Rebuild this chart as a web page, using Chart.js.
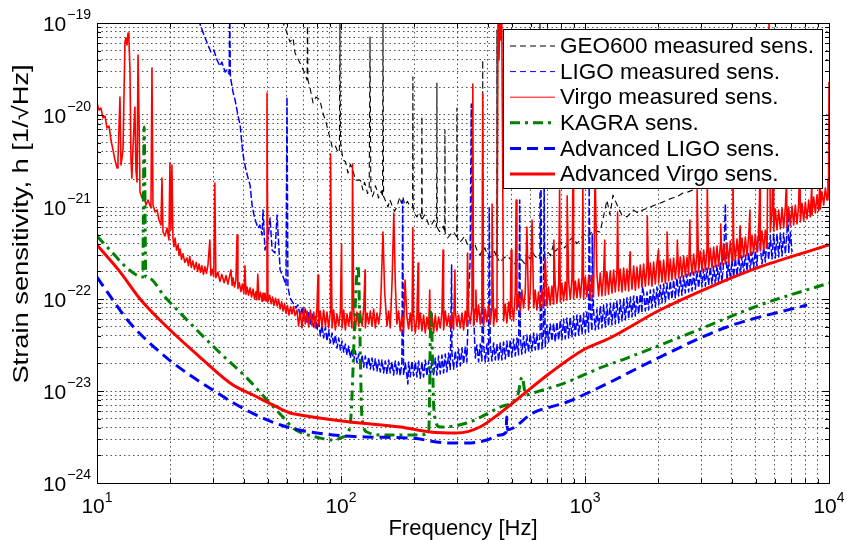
<!DOCTYPE html>
<html>
<head>
<meta charset="utf-8">
<title>Strain sensitivity</title>
<script src="https://cdn.jsdelivr.net/npm/chart.js@4.4.0/dist/chart.umd.min.js"></script>
<style>
  html, body { margin: 0; padding: 0; background: #fff; }
  #chart { display: block; }
</style>
</head>
<body>
<canvas id="chart" width="847" height="540"></canvas>
<script>
// values: [frequency Hz, strain 1/sqrt(Hz)]
var geoMeasured = [
  [57.3, 1.08e-19], [60.07, 7.78e-20], [61.8, 6.21e-20], [63.6, 6.86e-20], [64.8, 4.72e-20], [67.9, 3.67e-20],
  [70.6, 2.93e-20], [72.6, 2.4e-20], [72.9, 1.2e-19], [73.2, 2.4e-20], [74.7, 1.96e-20], [76.8, 1.35e-20],
  [78.9, 1.57e-20], [81.9, 1.46e-20], [84.3, 1.05e-20], [86.8, 8.39e-21], [88.4, 6.87e-21], [92.0, 4.49e-21],
  [94.5, 4.72e-21], [96.3, 4.16e-21], [98.5, 3.9e-21], [99.0, 1.2e-19], [99.5, 5.0e-21], [102.0, 3.24e-21],
  [104.4, 3.1e-21], [106.8, 2.34e-21], [109.3, 2.9e-21], [111.9, 2.52e-21], [114.6, 1.95e-21], [117.4, 1.96e-21],
  [120.2, 1.95e-21], [123.0, 1.53e-21], [124.8, 1.85e-21], [126.6, 1.67e-21], [128.5, 1.4e-21], [130.5, 1.63e-21],
  [131.5, 7.04e-20], [132.5, 1.6e-21], [134.4, 1.3e-21], [136.3, 1.42e-21], [138.3, 1.7e-21], [140.4, 1.53e-21],
  [142.4, 1.25e-21], [144.5, 1.35e-21], [146.2, 1.5e-21], [148.0, 1.28e-21], [148.6, 1.2e-19], [149.5, 1.3e-21],
  [152.6, 1.15e-21], [155.8, 1.0e-21], [158.6, 1.2e-21], [161.6, 1.05e-21], [165.5, 9.0e-22], [169.5, 1.0e-21],
  [172, 1.15e-21], [174.4, 1.28e-21], [176.8, 1.1e-21], [179.3, 1.28e-21], [182.8, 1.05e-21], [187.4, 1.15e-21],
  [192.2, 1.0e-21], [196.5, 9.8e-22], [197.1, 2.6e-20], [197.7, 9.5e-22], [201, 8.4e-22], [204.7, 7.79e-22],
  [209.3, 8.8e-22], [214.0, 7.5e-22], [214.6, 9.7e-21], [215.2, 7.4e-22], [220, 8.2e-22], [225, 7.22e-22],
  [230.3, 6.2e-22], [235.8, 6.53e-22], [241, 7.2e-22], [246.5, 6.1e-22], [247.2, 2.23e-20], [248, 6.0e-22],
  [253.5, 5.4e-22], [259, 5.63e-22], [262.5, 6.2e-22], [266.2, 5.25e-22], [266.7, 6.87e-21], [267.3, 5.2e-22],
  [273.4, 4.6e-22], [279.6, 4.96e-22], [288.7, 5.4e-22], [298.0, 4.75e-22], [298.6, 1.19e-20], [299.3, 4.7e-22],
  [306, 4.1e-22], [313, 4.38e-22], [320.5, 4.8e-22], [328, 4.06e-22], [337, 3.6e-22], [346.5, 3.7e-22],
  [347, 1.96e-21], [347.5, 3.65e-22], [354, 3.9e-22], [360.6, 3.41e-22], [370.5, 3.0e-22], [380.5, 3.35e-22],
  [381, 3.96e-20], [381.5, 3.33e-22], [388.5, 3.6e-22], [396, 3.16e-22], [406, 2.8e-22], [416, 2.98e-22],
  [425.5, 3.3e-22], [435, 2.85e-22], [435.5, 8.39e-20], [436, 2.84e-22], [449, 2.5e-22], [462, 2.76e-22],
  [480, 2.95e-22], [498, 2.65e-22], [510, 2.35e-22], [521, 2.52e-22], [540, 2.8e-22], [560, 2.52e-22],
  [571, 2.3e-22], [583, 2.98e-22], [597, 2.7e-22], [612, 3.16e-22], [626, 2.9e-22], [641, 2.76e-22],
  [653, 2.7e-22], [654, 1.2e-19], [655, 2.7e-22], [673, 2.65e-22], [689, 3.1e-22], [705, 3.24e-22],
  [722, 2.95e-22], [741, 3.86e-22], [754, 3.3e-22], [767, 3.41e-22], [786, 4.2e-22], [806, 4.06e-22],
  [824, 3.6e-22], [843, 3.86e-22], [868, 4.4e-22], [893, 4.72e-22], [925, 4.0e-22], [958, 4.38e-22],
  [988, 5.1e-22], [1018, 4.72e-22], [1047, 5.0e-22], [1077, 5.63e-22], [1151, 5.35e-22], [1183, 7.22e-22],
  [1230, 1.19e-21], [1266, 8.19e-22], [1302, 1.35e-21], [1365, 9.97e-22], [1417, 8.19e-22], [1486, 7.79e-22],
  [1576, 9.28e-22], [1649, 8.61e-22], [1726, 9.28e-22], [1850, 1.0e-21], [1935, 1.05e-21], [2029, 1.1e-21],
  [2167, 1.19e-21], [2280, 1.25e-21], [2382, 1.29e-21], [2520, 1.42e-21], [2645, 1.46e-21], [2770, 1.53e-21],
  [2950, 1.61e-21], [3190, 1.67e-21]
];

var ligoMeasured = [
  [26.0, 1.1e-19], [27.45, 7.4e-20], [28.5, 5.76e-20], [29.3, 4.84e-20], [30.1, 5.09e-20], [31.04, 3.96e-20],
  [31.9, 3.41e-20], [32.5, 3.76e-20], [33.5, 2.93e-20], [34.1, 3.08e-20], [34.8, 2.79e-20], [35.0, 1.2e-19],
  [35.2, 2.7e-20], [35.4, 2.4e-20], [36.1, 1.77e-20], [36.8, 1.46e-20], [37.8, 1.0e-20], [38.6, 7.79e-21],
  [39.4, 4.37e-21], [40.0, 3.24e-21], [40.8, 2.52e-21], [41.6, 2.06e-21], [42.4, 1.73e-21], [43.2, 1.05e-21],
  [44.0, 8.19e-22], [44.8, 6.87e-22], [45.7, 5.91e-22], [46.5, 6.37e-22], [47.5, 4.96e-22], [47.9, 9.28e-22],
  [48.8, 3.41e-22], [50.2, 4.49e-22], [51.2, 7.59e-22], [52.2, 3.41e-22], [53.6, 3.16e-22], [54.7, 8.19e-22],
  [56.3, 2.07e-22], [57.9, 1.74e-22], [59.5, 1.42e-22], [60.07, 1.57e-20], [60.6, 1.35e-22], [61.8, 1.03e-22],
  [63.6, 9.05e-23], [65.4, 7.98e-23], [66.6, 8.61e-23],
  [68.1, 6.37e-23], [69.2, 8.19e-23], [70.3, 6.06e-23], [71.4, 7.78e-23], [72.6, 5.62e-23], [73.7, 7.22e-23],
  [74.9, 5.35e-23], [76.1, 6.87e-23], [77.3, 4.96e-23], [78.5, 6.37e-23], [79.7, 4.6e-23], [81, 5.91e-23],
  [82.3, 3.96e-23], [83.6, 5.22e-23], [84.9, 3.77e-23], [86.3, 4.96e-23], [87.6, 3.49e-23], [89, 4.6e-23],
  [90.4, 3.33e-23], [91.9, 4.27e-23], [93.3, 3.16e-23], [94.8, 4.06e-23], [96.3, 2.93e-23], [97.9, 3.77e-23],
  [99.4, 2.79e-23], [101, 3.49e-23], [102.6, 2.65e-23], [104.2, 3.24e-23], [105.8, 2.46e-23], [107.5, 3.08e-23],
  [109.2, 2.28e-23], [110.9, 2.86e-23], [112.7, 2.12e-23], [114.5, 2.72e-23], [116.3, 2.02e-23], [118.2, 2.52e-23],
  [120, 1.87e-23], [122, 2.46e-23], [123.9, 1.82e-23], [125.8, 2.4e-23], [127.8, 1.78e-23], [129.9, 2.34e-23],
  [131.9, 1.73e-23], [134, 2.28e-23], [136.1, 1.69e-23], [138.3, 2.23e-23], [140.4, 1.65e-23], [142.7, 2.17e-23],
  [144.9, 1.61e-23], [147.2, 2.17e-23], [149.5, 1.57e-23], [151.9, 2.12e-23], [154.3, 1.53e-23], [156.8, 2.17e-23],
  [159.2, 1.57e-23], [161.8, 2.07e-23], [164.3, 1.49e-23], [166.9, 2.12e-23], [169.5, 1.53e-23], [172.2, 2.07e-23],
  [174.9, 1.46e-23], [177.7, 2.07e-23], [179, 1.19e-21], [180.5, 1.49e-23], [183.4, 2.02e-23], [186.3, 1.46e-23],
  [188, 1.19e-23], [189.3, 2.07e-23], [192.3, 1.42e-23], [195.3, 2.12e-23], [198.4, 1.46e-23], [201.6, 2.07e-23],
  [204.7, 1.42e-23], [208, 2.12e-23], [211.3, 1.38e-23], [214.6, 2.07e-23], [218, 1.42e-23], [221.5, 2.17e-23],
  [225, 1.46e-23], [228.6, 2.12e-23], [232.2, 1.42e-23], [235.9, 2.23e-23], [239.6, 1.46e-23], [243.4, 2.28e-23],
  [247.2, 1.49e-23], [251.1, 2.4e-23], [255.1, 1.53e-23], [259.2, 2.46e-23], [263.3, 1.57e-23], [267.5, 2.52e-23],
  [271.7, 1.61e-23], [276, 2.59e-23], [280.4, 1.69e-23], [284, 2.34e-22], [284.9, 2.65e-23], [289.4, 1.73e-23],
  [294, 2.72e-23], [298.6, 1.82e-23], [303.4, 2.86e-23], [308.2, 1.87e-23], [313.1, 2.93e-23], [318, 1.97e-23],
  [323, 3.01e-23], [328.1, 2.07e-23], [333, 9.75e-23], [338, 2.46e-22], [342, 1.32e-20], [346, 1.61e-22],
  [352, 4.38e-23], [355, 2.28e-23], [360.6, 3.16e-23], [366.4, 2.07e-23], [372.1, 3.24e-23], [378, 2.12e-23],
  [380, 3.08e-22], [384, 3.16e-23], [390.2, 2.07e-23], [396.3, 3.24e-23], [402.6, 2.12e-23], [405, 9.75e-22],
  [409, 3.24e-23], [415.5, 2.12e-23], [422.1, 3.33e-23], [428.8, 2.17e-23], [435.5, 3.24e-23], [442.4, 2.12e-23],
  [449.4, 3.33e-23], [456.6, 2.17e-23], [463.8, 3.41e-23], [471.2, 2.23e-23], [478.6, 3.49e-23], [486.2, 2.28e-23],
  [493.9, 3.58e-23], [501.8, 2.34e-23], [509.7, 3.67e-23], [517.8, 2.4e-23], [526, 3.77e-23], [534, 2.46e-23],
  [540, 1.19e-21], [543, 3.86e-23], [551, 2.52e-23], [560, 3.96e-23], [569, 2.59e-23], [578, 4.06e-23],
  [587, 2.65e-23], [596, 4.16e-23], [606, 2.72e-23], [616, 4.27e-23], [625, 2.79e-23], [635, 4.16e-23],
  [645, 2.72e-23], [655, 4.27e-23], [660, 2.52e-21], [666, 2.86e-23], [676, 4.38e-23], [680, 2.2e-21],
  [687, 3.01e-23], [698, 5.22e-23], [709, 3.41e-23], [720, 5.35e-23], [732, 3.49e-23], [743, 5.48e-23],
  [755, 3.41e-23], [767, 5.62e-23], [780, 3.58e-23], [792, 5.91e-23], [804, 3.58e-23], [817, 6.06e-23],
  [830, 3.67e-23], [843, 6.21e-23], [857, 3.77e-23], [870, 6.37e-23], [884, 3.86e-23], [898, 6.53e-23],
  [913, 3.96e-23], [927, 6.7e-23], [942, 4.06e-23], [957, 6.87e-23], [972, 4.16e-23], [987, 7.04e-23],
  [1003, 4.27e-23], [1018, 7.22e-23], [1035, 4.38e-23], [1040, 1.61e-21], [1051, 7.4e-23], [1068, 4.49e-23],
  [1070, 5.09e-22], [1084, 7.59e-23], [1102, 4.6e-23], [1119, 7.78e-23], [1137, 4.72e-23], [1155, 8.39e-23],
  [1173, 4.84e-23], [1192, 8.61e-23], [1211, 4.96e-23], [1230, 8.82e-23], [1249, 5.09e-23], [1269, 9.05e-23],
  [1290, 5.22e-23], [1310, 9.28e-23], [1331, 5.35e-23], [1352, 9.51e-23], [1374, 5.48e-23], [1395, 9.75e-23],
  [1418, 5.76e-23], [1440, 1.0e-22], [1463, 5.91e-23], [1486, 1.03e-22], [1510, 6.06e-23], [1534, 1.05e-22],
  [1558, 6.37e-23], [1583, 1.08e-22], [1608, 6.53e-23], [1633, 1.1e-22], [1659, 6.87e-23], [1685, 1.13e-22],
  [1712, 7.04e-23], [1720, 1.38e-22], [1739, 1.16e-22], [1767, 7.4e-23], [1795, 1.19e-22], [1823, 7.59e-23],
  [1852, 1.25e-22], [1881, 7.98e-23], [1911, 1.28e-22], [1942, 8.19e-23], [1972, 1.35e-22], [2004, 8.61e-23],
  [2035, 1.42e-22], [2068, 9.05e-23], [2100, 1.46e-22], [2134, 9.28e-23], [2167, 1.49e-22], [2202, 9.75e-23],
  [2236, 1.57e-22], [2272, 1.0e-22], [2308, 1.61e-22], [2345, 1.03e-22], [2382, 1.69e-22], [2420, 1.08e-22],
  [2458, 1.73e-22], [2497, 1.1e-22], [2537, 1.78e-22], [2577, 1.16e-22], [2618, 1.87e-22], [2660, 1.19e-22],
  [2702, 1.92e-22], [2745, 1.22e-22], [2788, 1.97e-22], [2833, 1.28e-22], [2877, 2.02e-22], [2923, 1.32e-22],
  [2969, 2.07e-22], [3016, 1.35e-22], [3064, 2.12e-22], [3113, 1.38e-22], [3162, 2.17e-22], [3212, 1.42e-22],
  [3263, 2.23e-22], [3315, 1.46e-22], [3368, 2.28e-22], [3421, 1.42e-22], [3475, 2.34e-22], [3530, 1.49e-22],
  [3586, 2.46e-22], [3643, 1.53e-22], [3701, 2.52e-22], [3760, 1.08e-21], [3819, 1.57e-22], [3880, 2.59e-22],
  [3941, 1.65e-22], [4004, 2.65e-22], [4067, 1.73e-22], [4132, 2.79e-22], [4197, 1.78e-22], [4264, 2.86e-22],
  [4331, 1.87e-22], [4400, 2.93e-22], [4470, 1.92e-22], [4541, 3.01e-22], [4612, 2.02e-22], [4686, 3.16e-22],
  [4760, 2.07e-22], [4836, 3.24e-22], [4912, 2.17e-22], [4990, 3.33e-22], [5069, 2.28e-22], [5150, 6.53e-22],
  [5231, 3.58e-22], [5314, 2.4e-22], [5399, 3.67e-22], [5485, 2.52e-22], [5571, 4.84e-22], [5660, 2.65e-22],
  [5749, 4.96e-22], [5841, 2.72e-22], [5933, 5.09e-22], [6027, 2.79e-22], [6122, 5.09e-22], [6220, 2.86e-22],
  [6318, 5.22e-22], [6419, 2.93e-22], [6520, 5.22e-22], [6624, 3.08e-22], [6728, 5.35e-22], [6800, 9.28e-22],
  [6835, 3.16e-22], [6943, 5.35e-22], [7054, 3.24e-22]
];

var virgoMeasured = [
  [10, 1.35e-20], [10.19, 1.13e-20], [10.38, 1.19e-20], [10.58, 9.29e-21], [10.78, 9.74e-21], [10.99, 7.22e-21],
  [11.2, 7.6e-21], [11.41, 5.35e-21], [11.63, 4.16e-21], [11.85, 3.24e-21], [12.08, 2.65e-21], [12.19, 3.24e-21],
  [12.42, 1.57e-20], [12.54, 2.86e-21], [12.78, 4.16e-21], [13.02, 6.21e-20], [13.14, 6.86e-20], [13.27, 5.76e-20],
  [13.4, 7.78e-20], [13.52, 6.53e-20], [13.65, 3.08e-20], [13.78, 3.24e-21], [13.9, 2.06e-21], [14.03, 4.16e-21],
  [14.3, 1.22e-20], [14.44, 2.52e-21], [14.59, 1.87e-21], [14.73, 4.49e-20], [14.87, 8.83e-21], [15.01, 1.46e-21],
  [15.3, 1.25e-21], [15.59, 1.31e-21], [15.88, 1.05e-21], [16.18, 1.19e-21], [16.64, 9.76e-22], [16.8, 3.24e-20],
  [16.96, 1.05e-21], [17.29, 8.83e-22], [17.62, 9.29e-22], [17.95, 7.22e-22], [18.29, 6.37e-22], [18.46, 2.06e-21],
  [18.64, 5.35e-22], [18.99, 4.84e-22], [19.36, 5.91e-22], [19.72, 4.38e-22], [19.9, 3.01e-21], [20.09, 5.63e-22],
  [20.28, 2.86e-21], [20.48, 4.6e-22], [20.68, 3.7e-22], [20.88, 4.6e-22], [21.18, 3.4e-22], [21.48, 3.9e-22],
  [21.7, 3.0e-22], [21.9, 3.5e-22], [22.2, 2.7e-22], [22.52, 3.1e-22], [22.9, 2.5e-22], [23.38, 2.8e-22],
  [23.7, 2.3e-22], [24.0, 2.9e-22], [24.35, 2.2e-22], [24.7, 2.6e-22], [25.1, 2.1e-22], [25.5, 2.5e-22],
  [25.85, 2.0e-22], [26.2, 2.4e-22], [26.55, 1.95e-22], [26.9, 2.3e-22], [27.3, 1.85e-22], [27.7, 2.25e-22],
  [28.1, 1.9e-22], [28.5, 2.35e-22], [29.0, 4.38e-22], [29.3, 1.8e-22], [29.7, 2.1e-22], [30.1, 1.75e-22],
  [30.4, 1.82e-21], [30.7, 1.7e-22], [31.3, 1.95e-22], [31.9, 1.55e-22], [32.5, 1.85e-22], [33.2, 1.5e-22],
  [33.8, 1.8e-22], [34.4, 1.45e-22], [34.9, 1.75e-22], [35.4, 2.07e-22], [35.8, 1.4e-22], [36.1, 1.7e-22],
  [36.6, 1.35e-22], [37.1, 1.6e-22], [37.5, 4.96e-22], [37.8, 1.3e-22], [38.3, 1.5e-22], [38.9, 1.2e-22],
  [39.4, 1.45e-22], [40.0, 1.15e-22], [40.4, 2.3e-22], [40.8, 1.12e-22], [41.2, 1.35e-22], [41.8, 1.1e-22],
  [42.4, 1.32e-22], [43.0, 1.05e-22], [43.6, 1.28e-22], [44.2, 1.0e-22], [44.8, 1.2e-22], [45.2, 9.8e-23],
  [45.6, 1.85e-22], [46.1, 9.8e-23], [46.8, 1.18e-22], [47.5, 9.4e-23], [47.9, 1.15e-22], [48.3, 9.6e-23],
  [48.8, 1.15e-22], [49.3, 9.5e-23], [49.74, 1.73e-20], [50.2, 9.4e-23], [51.0, 1.1e-22], [51.7, 8.9e-23],
  [52.4, 1.05e-22], [53.1, 8.5e-23], [53.9, 1.02e-22], [54.7, 8.4e-23], [55.5, 9.9e-23], [56.3, 7.8e-23],
  [57.1, 9.3e-23], [57.9, 7.4e-23], [58.7, 8.9e-23], [59.5, 7.0e-23], [60.3, 8.5e-23], [61.2, 6.7e-23],
  [62.1, 8.2e-23], [63.0, 6.9e-23], [63.9, 8.3e-23], [64.8, 6.6e-23],
  [66, 7.59e-23], [67, 5.09e-23], [68.1, 7.22e-23], [69.2, 4.84e-23], [70.3, 7.98e-23], [71.4, 5.35e-23],
  [72.6, 7.4e-23], [73.7, 4.96e-23], [74.9, 7.59e-23], [76.1, 5.09e-23], [77.3, 7.22e-23], [78.5, 4.84e-23],
  [79.7, 7.98e-23], [80.5, 1.82e-22], [81, 5.09e-23], [82.3, 7.4e-23], [83.6, 4.96e-23], [84.9, 7.59e-23],
  [86.3, 5.09e-23], [87.6, 7.22e-23], [89, 4.84e-23], [90.4, 7.22e-23], [90.6, 3.77e-21], [91.9, 4.84e-23],
  [93.3, 7.59e-23], [94.8, 4.6e-23], [96.3, 6.87e-23], [97.9, 5.09e-23], [99.4, 7.22e-23], [100.5, 3.96e-22],
  [101, 4.84e-23], [102.6, 7.59e-23], [104.2, 4.6e-23], [105.8, 6.87e-23], [107.5, 5.09e-23], [109.2, 7.22e-23],
  [110.9, 4.84e-23], [111.5, 2.93e-21], [112.7, 7.59e-23], [114.5, 4.6e-23], [116.3, 7.22e-23], [118.2, 5.09e-23],
  [120, 7.4e-23], [122, 5.09e-23], [123.9, 7.78e-23], [125.5, 2.07e-22], [125.8, 4.84e-23], [127.8, 7.04e-23],
  [129.9, 5.35e-23], [131.9, 7.4e-23], [134, 5.09e-23], [136.1, 7.78e-23], [138.3, 4.84e-23], [140.4, 7.04e-23],
  [142.7, 5.35e-23], [144.9, 7.4e-23], [146, 1.25e-22], [148.6, 5.35e-22], [151, 1.19e-22], [154.3, 5.09e-23],
  [156.8, 7.4e-23], [159.2, 4.84e-23], [162, 1.61e-22], [164.6, 8.61e-22], [167, 1.42e-22], [169.5, 5.35e-23],
  [172.2, 7.4e-23], [174.9, 4.49e-23], [177.7, 6.7e-23], [180.5, 4.27e-23], [183, 1.61e-22], [186.3, 6.37e-23],
  [189.3, 4.72e-23], [192.3, 7.04e-23], [195.3, 4.49e-23], [197, 5.91e-22], [198.4, 6.7e-23], [201.6, 4.27e-23],
  [204.7, 6.37e-23], [207, 2.46e-22], [208, 4.72e-23], [211.3, 7.04e-23], [214.6, 4.49e-23], [218, 6.7e-23],
  [221.5, 4.27e-23], [225, 6.37e-23], [228.6, 4.72e-23], [231, 1.25e-22], [232.2, 4.49e-23], [235.9, 7.04e-23],
  [239.6, 4.27e-23], [243.4, 6.7e-23], [247.2, 4.49e-23], [251.1, 6.37e-23], [255.1, 4.84e-23], [259.2, 7.04e-23],
  [262, 3.41e-22], [263.3, 4.6e-23], [267.5, 7.4e-23], [271.7, 5.09e-23], [276, 6.7e-23], [280.4, 4.84e-23],
  [284.9, 7.04e-23], [289.4, 4.6e-23], [293, 2.07e-22], [294, 7.4e-23], [298.6, 5.09e-23], [303.4, 6.7e-23],
  [308.2, 4.84e-23], [313.1, 7.04e-23], [318, 4.6e-23], [323, 7.4e-23], [328.1, 5.09e-23], [330, 3.16e-22],
  [333.4, 7.04e-23], [338.6, 5.35e-23], [344, 8.19e-23], [347, 2.17e-20], [349.4, 5.09e-23], [355, 7.78e-23],
  [357, 1.25e-22], [360.6, 5.62e-23], [366.4, 8.61e-23], [372.1, 5.35e-23], [378, 8.19e-23], [381, 1.69e-20],
  [384, 5.09e-23], [390.2, 7.78e-23], [396.3, 5.62e-23], [402.6, 8.61e-23], [409, 5.35e-23], [415.5, 8.19e-23],
  [416, 1.08e-21], [422.1, 5.09e-23], [428.8, 7.78e-23], [435.5, 5.62e-23], [440, 1.03e-19], [444, 3.96e-20],
  [448, 1.13e-19], [452, 6.53e-20], [456, 1.08e-19], [463.8, 5.76e-23], [471.2, 8.82e-23], [478.6, 5.48e-23],
  [486.2, 9.28e-23], [493.9, 6.06e-23], [498, 3.41e-22], [501.8, 8.39e-23], [509.7, 5.76e-23], [517.8, 1.19e-22],
  [522, 1.19e-21], [526, 7.59e-23], [534, 1.13e-22], [543, 7.22e-23], [551, 1.25e-22], [560, 7.98e-23],
  [569, 1.19e-22], [578, 6.06e-22], [587, 7.59e-23], [596, 1.13e-22], [607, 7.22e-22], [616, 7.98e-23],
  [625, 1.25e-22], [635, 7.59e-23], [645, 1.19e-22], [655, 7.98e-23], [666, 1.28e-22], [676, 8.19e-23],
  [688, 2.79e-22], [698, 8.39e-23], [709, 1.35e-22], [720, 8.61e-23], [732, 1.38e-22], [743, 8.82e-23],
  [745, 4.38e-22], [755, 1.42e-22], [767, 9.05e-23], [780, 1.46e-22], [787, 1.53e-21], [792, 9.28e-23],
  [804, 1.49e-22], [817, 9.51e-23], [830, 1.53e-22], [843, 9.75e-23], [845, 1.32e-21], [857, 1.57e-22],
  [870, 1.0e-22], [884, 1.61e-22], [893, 2.52e-21], [898, 1.0e-22], [913, 1.57e-22], [927, 1.03e-22],
  [942, 1.65e-22], [957, 1.03e-22], [972, 1.69e-22], [980, 1.69e-21], [987, 1.0e-22], [1003, 1.73e-22],
  [1018, 1.05e-22], [1035, 1.78e-22], [1051, 1.03e-22], [1068, 1.82e-22], [1084, 1.05e-22], [1100, 2.52e-21],
  [1119, 1.87e-22], [1137, 1.08e-22], [1155, 1.92e-22], [1173, 1.08e-22], [1192, 1.87e-22], [1205, 4.38e-22],
  [1211, 1.1e-22], [1230, 1.97e-22], [1249, 1.13e-22], [1269, 2.02e-22], [1290, 1.16e-22], [1310, 2.07e-22],
  [1331, 1.19e-22], [1352, 2.02e-22], [1360, 8.82e-22], [1374, 1.22e-22], [1395, 2.12e-22], [1418, 1.19e-22],
  [1440, 2.17e-22], [1463, 1.25e-22], [1486, 2.12e-22], [1510, 1.22e-22], [1530, 3.24e-22], [1534, 2.23e-22],
  [1558, 1.28e-22], [1583, 2.28e-22], [1608, 1.25e-22], [1633, 2.23e-22], [1659, 1.32e-22], [1685, 2.34e-22],
  [1712, 1.35e-22], [1739, 2.4e-22], [1767, 1.38e-22], [1795, 2.34e-22], [1800, 7.98e-22], [1823, 1.42e-22],
  [1852, 2.46e-22], [1881, 1.38e-22], [1911, 2.52e-22], [1942, 1.46e-22], [1972, 2.46e-22], [2000, 3.41e-22],
  [2004, 1.49e-22], [2035, 2.59e-22], [2068, 1.53e-22], [2100, 2.65e-22], [2134, 1.49e-22], [2167, 2.59e-22],
  [2170, 5.35e-22], [2202, 1.57e-22], [2236, 2.72e-22], [2272, 1.61e-22], [2308, 2.79e-22], [2345, 1.65e-22],
  [2382, 2.72e-22], [2390, 4.38e-22], [2420, 1.69e-22], [2458, 2.86e-22], [2497, 1.73e-22], [2537, 2.93e-22],
  [2577, 1.78e-22], [2618, 2.86e-22], [2660, 1.82e-22], [2690, 7.22e-22], [2702, 3.01e-22], [2745, 1.87e-22],
  [2788, 3.08e-22], [2833, 1.92e-22], [2877, 3.16e-22], [2880, 1.53e-21], [2923, 1.97e-22], [2969, 3.33e-22],
  [3016, 2.02e-22], [3064, 3.41e-22], [3113, 2.07e-22], [3162, 3.49e-22], [3170, 1.78e-21], [3212, 2.12e-22],
  [3263, 3.58e-22], [3315, 2.17e-22], [3368, 3.67e-22], [3421, 2.23e-22], [3475, 3.77e-22], [3530, 2.28e-22],
  [3586, 3.86e-22], [3600, 6.53e-22], [3643, 2.34e-22], [3701, 3.96e-22], [3760, 2.4e-22], [3819, 4.06e-22],
  [3880, 2.46e-22], [3941, 4.27e-22], [4004, 2.59e-22], [4040, 2.52e-21], [4067, 4.38e-22], [4132, 2.65e-22],
  [4197, 4.49e-22], [4264, 2.72e-22], [4320, 6.21e-22], [4331, 2.79e-22], [4400, 4.6e-22], [4470, 2.86e-22],
  [4541, 4.72e-22], [4612, 2.93e-22], [4686, 4.84e-22], [4740, 9.28e-22], [4760, 3.01e-22], [4836, 4.96e-22],
  [4912, 3.16e-22], [4990, 5.09e-22], [5069, 3.24e-22], [5150, 5.22e-22], [5220, 2.52e-21], [5231, 3.33e-22],
  [5314, 5.48e-22], [5399, 3.41e-22], [5485, 5.62e-22], [5571, 3.58e-22], [5680, 1.1e-19], [5749, 5.35e-22],
  [5841, 9.28e-22], [5900, 4.16e-21], [5933, 5.48e-22], [6027, 9.51e-22], [6122, 5.62e-22], [6220, 9.28e-22],
  [6318, 5.76e-22], [6419, 9.75e-22], [6520, 5.91e-22], [6624, 1.0e-21], [6700, 1.97e-21], [6728, 6.06e-22],
  [6835, 1.0e-21], [6943, 6.21e-22], [7054, 1.025e-21], [7165, 6.37e-22], [7279, 1.05e-21], [7394, 6.53e-22],
  [7512, 1.08e-21], [7600, 4.16e-21], [7631, 6.87e-22], [7752, 1.1e-21], [7875, 7.04e-22], [8000, 1.13e-21],
  [8126, 7.4e-22], [8255, 1.19e-21], [8386, 7.78e-22], [8500, 1.78e-21], [8519, 8.19e-22], [8654, 1.28e-21],
  [8791, 8.61e-22], [8930, 1.35e-21], [9072, 9.05e-22], [9200, 2.52e-21], [9216, 9.51e-22], [9362, 1.46e-21],
  [9511, 1.05e-21], [9662, 1.61e-21], [9814, 1.19e-21], [9900, 1.97e-21], [9950, 1.3e-21], [10000, 2.28e-20]
];

var kagraDesign = [
  [10, 4.84e-22], [11.3, 3.41e-22], [13.02, 2.28e-22], [14.73, 1.78e-22], [15.4, 1.73e-22], [15.6, 7.41e-21],
  [15.85, 1.72e-22], [16.2, 1.7e-22], [18.99, 1.05e-22], [23.38, 5.91e-23], [31.04, 2.79e-23], [41.19, 1.38e-23],
  [49.74, 7.98e-24], [57.8, 5.21e-24], [63.6, 3.96e-24], [67.9, 3.58e-24], [82.0, 3.08e-24], [92.7, 2.93e-24],
  [101.9, 3.16e-24], [108.8, 4.06e-24], [117.4, 2.34e-22], [121.9, 5.21e-24], [127.8, 3.58e-24], [148.6, 3.33e-24],
  [210.8, 3.33e-24], [229, 3.77e-24], [233.6, 7.22e-23], [240.8, 5.77e-24], [254.5, 4.06e-24], [328, 4.49e-24],
  [449, 6.7e-24], [530, 9.05e-24], [552, 1.42e-23], [572, 9.05e-24], [612, 9.51e-24], [844, 1.25e-23],
  [1151, 1.78e-23], [1486, 2.28e-23], [2771, 4.38e-23], [5214, 8.61e-23], [10000, 1.49e-22]
];

var advLigoDesign = [
  [10, 1.73e-22], [11.85, 9.05e-23], [13.65, 5.48e-23], [19.36, 2.28e-23], [29.9, 1.02e-23], [42.4, 5.91e-24],
  [60.07, 4.06e-24], [92.7, 3.33e-24], [127.8, 3.16e-24], [191.7, 3.08e-24], [279.7, 2.72e-24], [328, 2.72e-24],
  [396, 2.93e-24], [449, 3.33e-24], [475, 3.58e-24], [478, 5.21e-24], [481, 3.8e-24], [612, 5.77e-24],
  [843, 7.59e-24], [1151, 1.1e-23], [2029, 2.34e-23], [3816, 4.96e-23], [8128, 8.61e-23]
];

var advVirgoDesign = [
  [10, 3.86e-22], [12.43, 1.97e-22], [15.01, 1.0e-22], [19.36, 4.96e-23], [26.4, 2.34e-23], [36.1, 1.16e-23],
  [43.6, 9.05e-24], [52.6, 7.05e-24], [61.8, 5.77e-24], [67.9, 5.49e-24], [109, 4.6e-24], [175, 4.06e-24],
  [232, 3.58e-24], [299, 3.49e-24], [371, 4.06e-24], [449, 5.77e-24], [542, 8.61e-24], [719, 1.57e-23],
  [982, 2.79e-23], [1266, 3.77e-23], [2028, 7.59e-23], [3251, 1.35e-22], [5214, 2.23e-22], [10000, 3.86e-22]
];

var seriesLabels = ['GEO600 measured sens.', 'LIGO measured sens.', 'Virgo measured sens.',
  'KAGRA sens.', 'Advanced LIGO sens.', 'Advanced Virgo sens.'];

// axes
var xDecades = [10, 100, 1000];
var yDecades = [1e-24, 1e-23, 1e-22, 1e-21, 1e-20];
var gridSteps = [1, 2, 3, 4, 5, 6, 7, 8, 9];
var xTickValues = [10, 100, 1000, 10000];
var xTickExps = ['1', '2', '3', '4'];
var yTickValues = [1e-24, 1e-23, 1e-22, 1e-21, 1e-20, 1e-19];
var yTickExps = ['\u221224', '\u221223', '\u221222', '\u221221', '\u221220', '\u221219'];

var xGrid = [];
xDecades.forEach(function(d) { gridSteps.forEach(function(s) { xGrid.push(d * s); }); });
xGrid.push(10000);
var yGrid = [];
yDecades.forEach(function(d) { gridSteps.forEach(function(s) { yGrid.push(d * s); }); });
yGrid.push(1e-19);

var FONT = '"Liberation Sans", Arial, Helvetica, sans-serif';

function toPoints(arr) {
  return arr.map(function(p) { return {x: p[0], y: p[1]}; });
}

var framePlugin = {
  id: 'frame',
  afterDraw: function(chart) {
    var ctx = chart.ctx;
    var a = chart.chartArea;
    var xs = chart.scales.x;
    var ys = chart.scales.y;
    ctx.save();
    ctx.strokeStyle = '#000';
    ctx.lineWidth = 1;
    ctx.setLineDash([]);

    // small ticks on the inside of all four sides
    ctx.beginPath();
    xGrid.forEach(function(v) {
      var px = Math.round(xs.getPixelForValue(v)) + 0.5;
      var len = xTickValues.indexOf(v) >= 0 ? 7 : 4;
      ctx.moveTo(px, a.bottom); ctx.lineTo(px, a.bottom - len);
      ctx.moveTo(px, a.top); ctx.lineTo(px, a.top + len);
    });
    yGrid.forEach(function(v) {
      var py = Math.round(ys.getPixelForValue(v)) + 0.5;
      var len = yTickValues.indexOf(v) >= 0 ? 7 : 4;
      ctx.moveTo(a.left, py); ctx.lineTo(a.left + len, py);
      ctx.moveTo(a.right, py); ctx.lineTo(a.right - len, py);
    });
    ctx.stroke();
    ctx.strokeRect(Math.round(a.left) + 0.5, Math.round(a.top) + 0.5,
      Math.round(a.right - a.left), Math.round(a.bottom - a.top));

    // tick labels, 10 with a raised exponent
    ctx.fillStyle = '#000';
    ctx.textBaseline = 'alphabetic';
    var baseFont = '21px ' + FONT;
    var expFont = '14px ' + FONT;
    yTickValues.forEach(function(v, i) {
      var py = ys.getPixelForValue(v);
      ctx.font = expFont;
      var ew = ctx.measureText(yTickExps[i]).width;
      ctx.textAlign = 'right';
      ctx.fillText(yTickExps[i], 91, py - 4);
      ctx.font = baseFont;
      ctx.fillText('10', 91 - ew - 1, py + 8);
    });
    xTickValues.forEach(function(v, i) {
      var px = xs.getPixelForValue(v);
      ctx.font = baseFont;
      var bw = ctx.measureText('10').width;
      ctx.font = expFont;
      var ew = ctx.measureText(xTickExps[i]).width;
      var left = px - (bw + ew) / 2;
      ctx.textAlign = 'left';
      ctx.font = baseFont;
      ctx.fillText('10', left, a.bottom + 30);
      ctx.font = expFont;
      ctx.fillText(xTickExps[i], left + bw, a.bottom + 19);
    });

    // axis titles
    ctx.font = '22px ' + FONT;
    ctx.textAlign = 'center';
    ctx.fillText('Frequency [Hz]', (a.left + a.right) / 2, 535);
    ctx.save();
    ctx.translate(28, 224);
    ctx.rotate(-Math.PI / 2);
    ctx.scale(1.24, 1);
    ctx.fillText('Strain sensitivity, h [1/\u221AHz]', 0, 0);
    ctx.restore();

    // legend box in the top right corner
    var lx = 503.5, ly = 29.5, lw = 319, lh = 159;
    ctx.fillStyle = '#fff';
    ctx.fillRect(lx, ly, lw, lh);
    ctx.strokeStyle = '#000';
    ctx.lineWidth = 1;
    ctx.strokeRect(lx, ly, lw, lh);
    chart.data.datasets.forEach(function(ds, i) {
      var yy = 46 + i * 25.6;
      ctx.save();
      ctx.strokeStyle = ds.borderColor;
      ctx.lineWidth = ds.legendWidth || ds.borderWidth;
      ctx.setLineDash(ds.legendDash || ds.borderDash || []);
      ctx.beginPath();
      ctx.moveTo(510, yy);
      ctx.lineTo(555, yy);
      ctx.stroke();
      ctx.restore();
      ctx.fillStyle = '#000';
      ctx.font = '22.5px ' + FONT;
      ctx.textAlign = 'left';
      ctx.textBaseline = 'middle';
      ctx.fillText(ds.label, 560, yy + 1);
    });
    ctx.restore();
  }
};

var datasets = [
  {label: seriesLabels[0], data: toPoints(geoMeasured), borderColor: '#000000', borderWidth: 1.1, legendWidth: 1, borderDash: [6, 4], order: 6},
  {label: seriesLabels[1], data: toPoints(ligoMeasured), borderColor: '#0000ff', borderWidth: 1.5, legendWidth: 1, borderDash: [7, 2.5], legendDash: [6, 4], order: 5},
  {label: seriesLabels[2], data: toPoints(virgoMeasured), borderColor: '#ff0000', borderWidth: 1.6, legendWidth: 1, order: 4},
  {label: seriesLabels[3], data: toPoints(kagraDesign), borderColor: '#008000', borderWidth: 3, borderDash: [10, 5, 3, 5], order: 3, cubicInterpolationMode: 'monotone'},
  {label: seriesLabels[4], data: toPoints(advLigoDesign), borderColor: '#0000ff', borderWidth: 3, borderDash: [11, 6], order: 2, cubicInterpolationMode: 'monotone'},
  {label: seriesLabels[5], data: toPoints(advVirgoDesign), borderColor: '#ff0000', borderWidth: 3, order: 1, cubicInterpolationMode: 'monotone'}
];

new Chart(document.getElementById('chart'), {
  type: 'line',
  data: {datasets: datasets},
  options: {
    responsive: false,
    animation: false,
    events: [],
    layout: {padding: {top: 23, right: 18, left: 0, bottom: 0}},
    elements: {
      point: {radius: 0},
      line: {tension: 0, borderJoinStyle: 'round', fill: false}
    },
    plugins: {legend: {display: false}, tooltip: {enabled: false}},
    scales: {
      x: {
        type: 'logarithmic', min: 10, max: 10000,
        afterBuildTicks: function(s) { s.ticks = xGrid.map(function(v) { return {value: v}; }); },
        afterFit: function(s) { s.height = 57; },
        ticks: {display: false},
        grid: {color: 'rgba(0,0,0,0.85)', lineWidth: 0.8, drawTicks: false},
        border: {display: false, dash: [1.5, 3]}
      },
      y: {
        type: 'logarithmic', min: 1e-24, max: 1e-19,
        afterBuildTicks: function(s) { s.ticks = yGrid.map(function(v) { return {value: v}; }); },
        afterFit: function(s) { s.width = 97; },
        ticks: {display: false},
        grid: {color: 'rgba(0,0,0,0.85)', lineWidth: 0.8, drawTicks: false},
        border: {display: false, dash: [1.5, 3]}
      }
    }
  },
  plugins: [framePlugin]
});
</script>
</body>
</html>
